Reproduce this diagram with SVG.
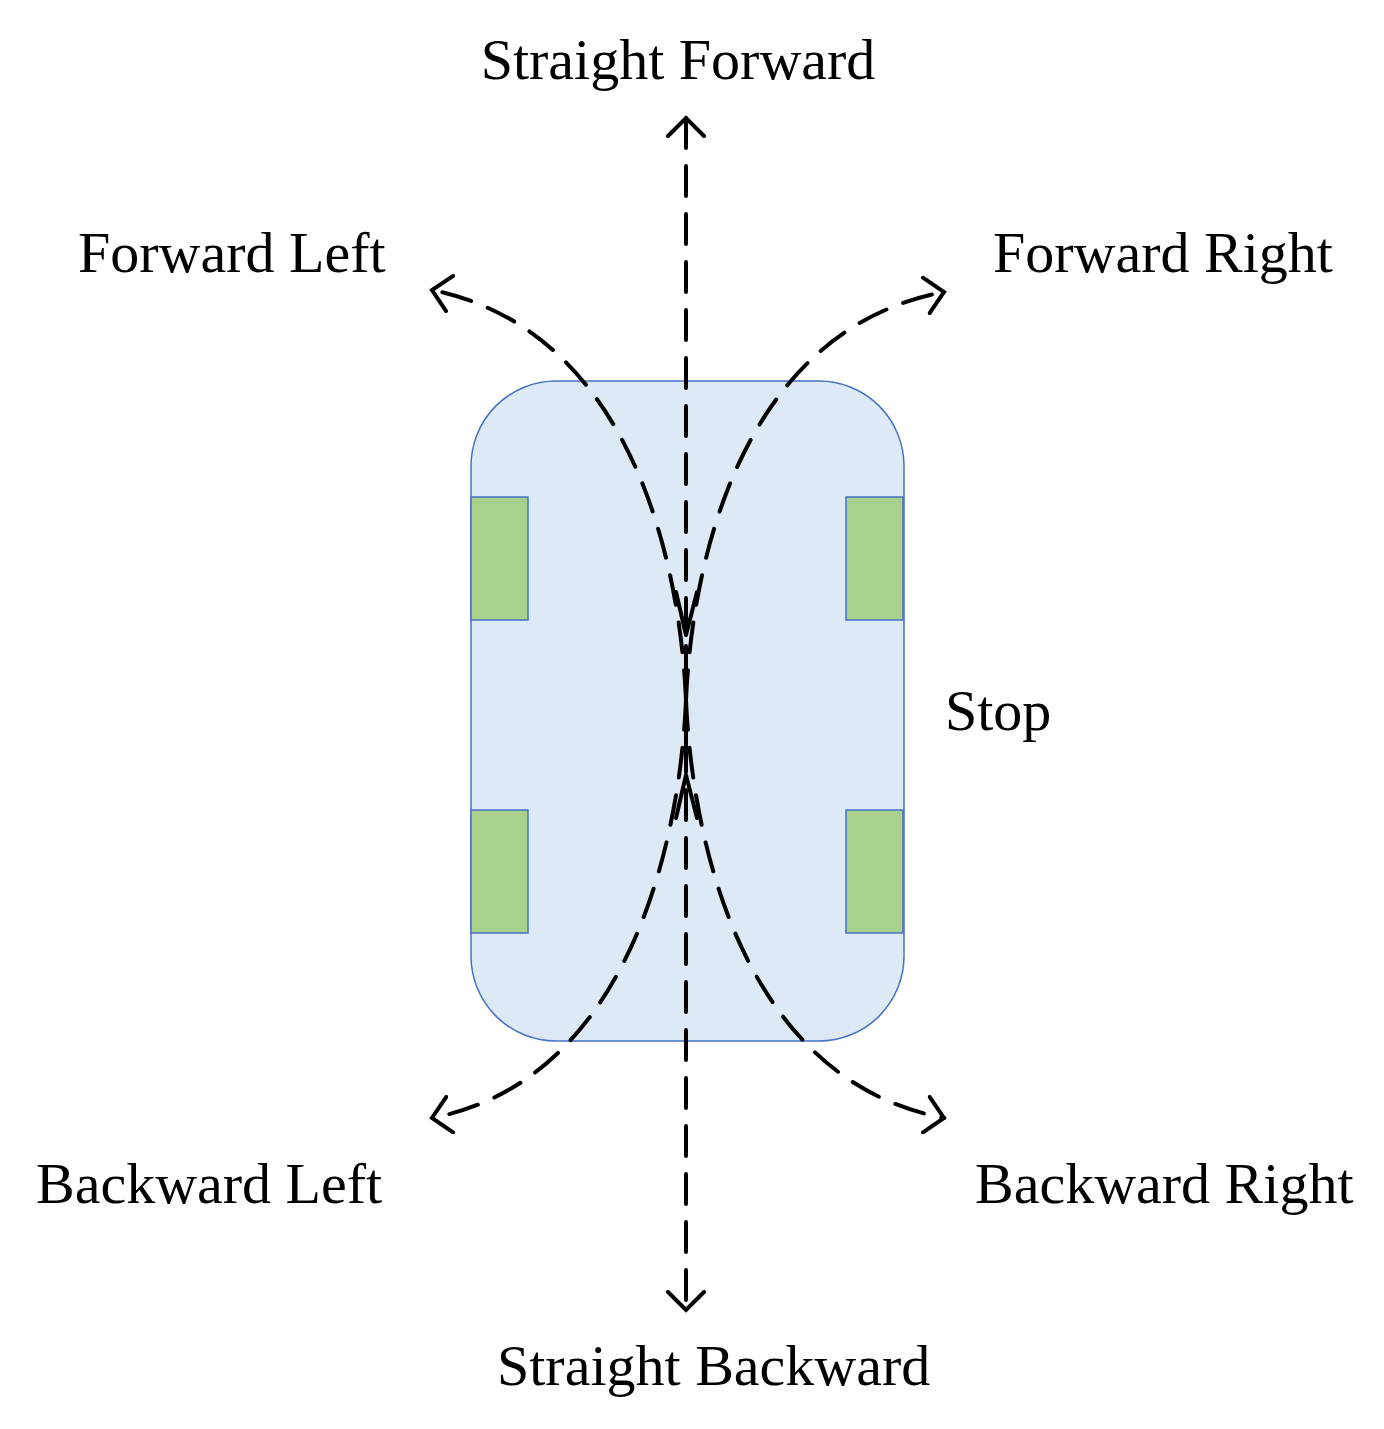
<svg xmlns="http://www.w3.org/2000/svg" width="1384" height="1429" viewBox="0 0 1384 1429">
<style>
text{font-family:"Liberation Serif","Times New Roman",serif;font-size:58px;fill:#000}
.d{fill:none;stroke:#000;stroke-width:4;stroke-dasharray:30 18;stroke-linecap:round}
.s{fill:none;stroke:#000;stroke-width:4;stroke-linecap:round;stroke-linejoin:round}
.w{fill:#a9d18e;stroke:#4472c4;stroke-width:1.5}
</style>
<defs>
<marker id="a" markerUnits="userSpaceOnUse" markerWidth="40" markerHeight="40" refX="20" refY="20" orient="auto-start-reverse" viewBox="0 0 40 40">
<path d="M2,2 L20,20 L2,38" fill="none" stroke="#000" stroke-width="4" stroke-linecap="round"/>
</marker>
</defs>
<g id="car">
<rect x="471" y="381" width="433" height="660" rx="85" fill="#dee9f6" stroke="#4472c4" stroke-width="1.5"/>
<rect class="w" x="471" y="497" width="57" height="123"/>
<rect class="w" x="471" y="810" width="57" height="123"/>
<rect class="w" x="846" y="497" width="57" height="123"/>
<rect class="w" x="846" y="810" width="57" height="123"/>
</g>
<g id="connectors">
<path class="d" d="M686,118 L686,1310" marker-start="url(#a)" marker-end="url(#a)"/>
<path class="d" d="M686,700 C680,560 630,330 432,290" marker-end="url(#a)"/>
<path class="d" d="M686,700 C692,560 742,330 944,292" marker-end="url(#a)"/>
<path class="d" d="M686,700 C680,840 630,1080 432,1118" marker-end="url(#a)"/>
<path class="d" d="M686,700 C692,840 742,1080 944,1118" marker-end="url(#a)"/>
<path class="s" d="M676,592 L686,635 L697,592"/>
<path class="s" d="M676,818 L686,775 L697,818"/>
<path class="s" d="M686,662 L686,750"/>
</g>
<g id="labels">
<text x="678" y="79" text-anchor="middle">Straight Forward</text>
<text x="78" y="272">Forward Left</text>
<text x="993" y="272">Forward Right</text>
<text x="945" y="730">Stop</text>
<text x="36" y="1203">Backward Left</text>
<text x="975" y="1203">Backward Right</text>
<text x="497" y="1385">Straight Backward</text>
</g>
</svg>
